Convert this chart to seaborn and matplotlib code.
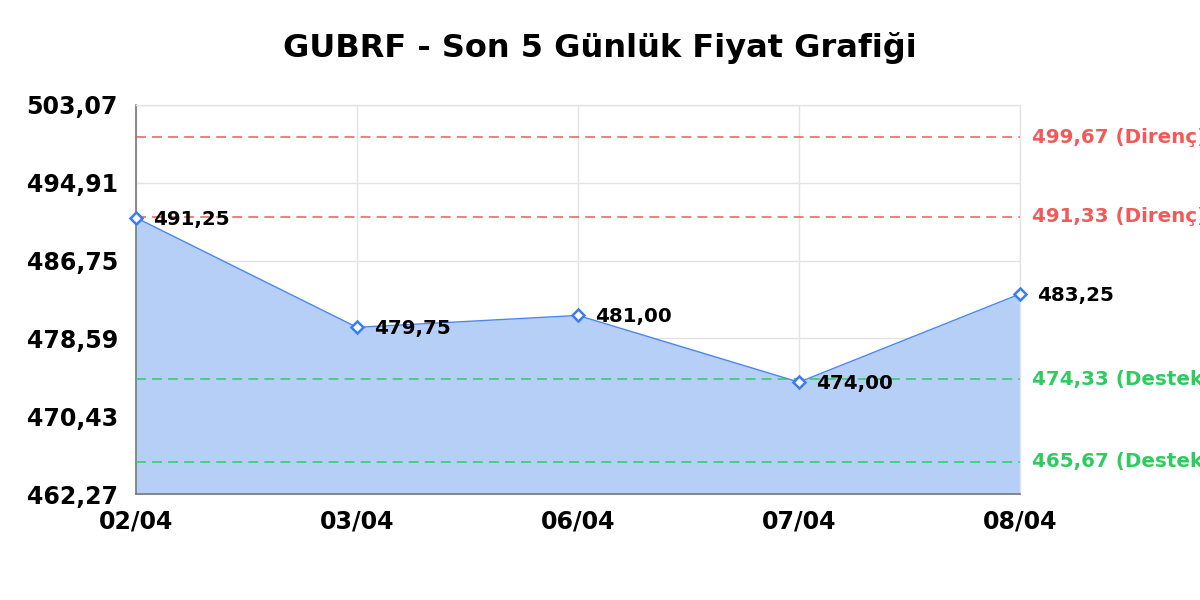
import matplotlib
matplotlib.use("Agg")
import matplotlib.pyplot as plt
import seaborn as sns
import pandas as pd
import numpy as np

dates = ["02/04", "03/04", "06/04", "07/04", "08/04"]
prices = [491.25, 479.75, 481.00, 474.00, 483.25]
price_labels = ["491,25", "479,75", "481,00", "474,00", "483,25"]
resistance = [499.67, 491.33]
resistance_labels = ["499,67 (Direnç)", "491,33 (Direnç)"]
support = [474.33, 465.67]
support_labels = ["474,33 (Destek)", "465,67 (Destek)"]
yticks = [462.27, 470.43, 478.59, 486.75, 494.91, 503.07]
ytick_labels = ["462,27", "470,43", "478,59", "486,75", "494,91", "503,07"]
title = "GUBRF - Son 5 Günlük Fiyat Grafiği"

sns.set_theme(style="white")
plt.rcParams['font.family'] = ['DejaVu Sans']
plt.rcParams['text.color'] = 'black'
plt.rcParams['xtick.color'] = 'black'
plt.rcParams['ytick.color'] = 'black'

df = pd.DataFrame({"x": np.arange(len(dates)), "price": prices})

fig = plt.figure(figsize=(12, 6), dpi=100)
ax = fig.add_axes([136/1200, 1-494/600, (1020-136)/1200, (494-105)/600])

ax.fill_between(df["x"], df["price"], yticks[0], color="#b6cff7", alpha=1.0, zorder=1, linewidth=0)
sns.lineplot(data=df, x="x", y="price", ax=ax, color="#4a86f0", linewidth=1.0,
             marker="D", markersize=6.5, markerfacecolor="white",
             markeredgecolor="#3b7cf0", markeredgewidth=1.8, zorder=5, clip_on=False)

for r in resistance:
    ax.axhline(r, color="#f05a5a", lw=1.1, dashes=(6.5, 4), zorder=3)
for s in support:
    ax.axhline(s, color="#2ecc60", lw=1.1, dashes=(6.5, 4), zorder=3)

for r, lab in zip(resistance, resistance_labels):
    ax.annotate(lab, xy=(1, r), xycoords=("axes fraction", "data"), xytext=(9, 0),
                textcoords="offset points", va="center", ha="left",
                color="#f05a5a", fontsize=14.3, fontweight="bold", annotation_clip=False)
for s, lab in zip(support, support_labels):
    ax.annotate(lab, xy=(1, s), xycoords=("axes fraction", "data"), xytext=(9, 0),
                textcoords="offset points", va="center", ha="left",
                color="#2ecc60", fontsize=14.3, fontweight="bold", annotation_clip=False)

for xi, p, lab in zip(df["x"], prices, price_labels):
    ax.annotate(lab, xy=(xi, p), xytext=(12, -1), textcoords="offset points",
                va="center", ha="left", fontsize=14.3, fontweight="bold",
                color="black", zorder=6, annotation_clip=False)

ax.set_xlim(0, len(dates) - 1)
ax.set_ylim(yticks[0], yticks[-1])
ax.set_xticks(df["x"])
ax.set_xticklabels(dates, fontsize=17, fontweight="bold")
ax.set_yticks(yticks)
ax.set_yticklabels(ytick_labels, fontsize=17, fontweight="bold")
ax.tick_params(axis="y", length=0, pad=13)
ax.tick_params(axis="x", length=0, pad=11)
ax.set_xlabel("")
ax.set_ylabel("")

ax.grid(True, color="#e3e3e3", linewidth=1.0, zorder=0)
ax.set_axisbelow(True)
for side in ["top", "right"]:
    ax.spines[side].set_color("#e3e3e3")
    ax.spines[side].set_linewidth(1.0)
for side in ["left", "bottom"]:
    ax.spines[side].set_color("#777777")
    ax.spines[side].set_linewidth(1.2)

fig.text(0.5, 1-48/600, title, ha="center", va="center", fontsize=23, fontweight="bold", color="black")

fig.savefig("out.png", dpi=100)
